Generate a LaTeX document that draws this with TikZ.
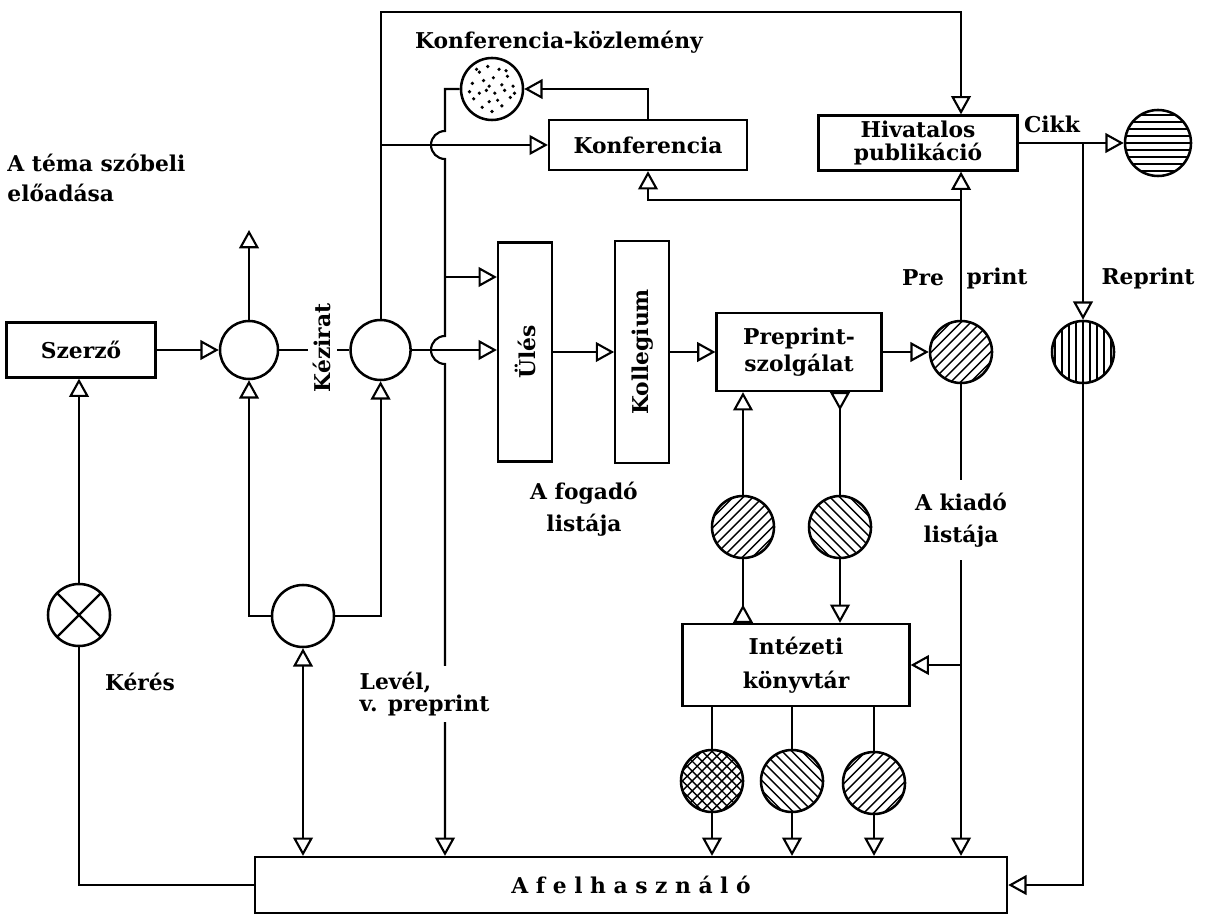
\documentclass[tikz,border=0pt]{standalone}
\usepackage{fontspec}
\setmainfont{DejaVu Serif}
\usetikzlibrary{arrows.meta,positioning,calc}
\tikzstyle{BlockNode}=[draw,rectangle,line width=1.6pt,inner sep=0pt,align=center]
\tikzstyle{DocumentNode}=[draw,circle,line width=1.8pt,minimum size=1.55cm,inner sep=0pt]
\tikzstyle{LabelNode}=[draw=none,align=center,inner sep=1pt]
\tikzstyle{GapLabel}=[draw=none,fill=white,align=left,inner sep=4pt]
\tikzstyle{BackTip}=[{Triangle[open,reversed,length=13pt,width=14pt]}-]
\tikzset{
hatched/.style={path picture={
\foreach \a in {#1}{
\foreach \k in {-42,-35,...,42}
  \draw[line width=1pt] ($(path picture bounding box.center)+(\a+90:\k*0.025cm)+(\a:1cm)$) -- ($(path picture bounding box.center)+(\a+90:\k*0.025cm)+(\a:-1cm)$);}}},
speckled/.style={path picture={
\begin{scope}[shift={(path picture bounding box.center)}]
\foreach \dx/\dy in {-14/4,-9/12,-3/16,5/14,11/9,15/2,13/-6,7/-12,0/-16,-7/-13,-13/-7,-6/6,1/8,7/3,2/-3,-4/-1,-9/-3,4/-8,-2/-9,9/-1,-16/-2,-11/14,16/-3,-2/2,10/13}
  \fill (\dx pt,\dy pt) circle (1.3pt);
\end{scope}}},
crossed/.style={path picture={
\draw[line width=1.6pt] (path picture bounding box.south west) -- (path picture bounding box.north east)
                        (path picture bounding box.north west) -- (path picture bounding box.south east);}}
}

\begin{document}
\begin{tikzpicture}[x=0.025cm,y=-0.025cm,line width=1.5pt,>={Triangle[open,length=13pt,width=14pt]},font=\fontsize{15.5}{19}\selectfont\bfseries]
  \useasboundingbox (0,0) rectangle (1207,918);
  \node[BlockNode,minimum width=3.725cm,minimum height=1.375cm](Szerzo) at (81,350){Szerző};
  \node[LabelNode,align=left,anchor=west](TemaLabel) at (5,178){A téma szóbeli\\[2pt]előadása};
  \node[DocumentNode,minimum size=1.45cm](SzobeliKor) at (249,350){};
  \node[DocumentNode,minimum size=1.5cm,right=1.75cm of SzobeliKor](KeziratKor){};
  \node[DocumentNode,crossed](KeresKor) at (79,615){};
  \node[LabelNode](KeresLabel) at (140,682){Kérés};
  \node[DocumentNode](LevelKor) at (303,616){};
  \node[BlockNode,minimum width=1.35cm,minimum height=5.475cm](Ules) at (525,352){\rotatebox{90}{Ülés}};
  \node[BlockNode,minimum width=1.35cm,minimum height=5.55cm,right=1.525cm of Ules](Kollegium){\rotatebox{90}{Kollegium}};
  \node[LabelNode](FogadoLabel) at (584,509){A fogadó\\[4pt]listája};
  \node[BlockNode,minimum width=4.125cm,minimum height=1.95cm,right=1.125cm of Kollegium](PreprintSzolg){Preprint-\\szolgálat};
  \node[DocumentNode,hatched=45,right=1.15cm of PreprintSzolg](PreprintKor){};
  \node[LabelNode](PreLabel) at (923,278){Pre};
  \node[LabelNode](PrintLabel) at (997,278){print};
  \node[BlockNode,minimum width=4.95cm,minimum height=1.25cm](Konferencia) at (648,145){Konferencia};
  \node[DocumentNode,speckled](KozlemenyKor) at (492,89){};
  \node[LabelNode](KozlemenyLabel) at (559,42){Konferencia-közlemény};
  \node[BlockNode,minimum width=4.975cm,minimum height=1.375cm](Hivatalos) at (918,143){Hivatalos\\[-3pt]publikáció};
  \node[DocumentNode,hatched=0,minimum size=1.65cm](CikkKor) at (1158,143){};
  \node[LabelNode](CikkLabel) at (1052,124){Cikk};
  \node[DocumentNode,hatched=90](ReprintKor) at (1083,352){};
  \node[LabelNode](ReprintLabel) at (1148,278){Reprint};
  \node[DocumentNode,hatched=45](IgenyKor) at (743,527){};
  \node[DocumentNode,hatched=-45](KuldesKor) at (840,527){};
  \node[BlockNode,minimum width=5.675cm,minimum height=2.05cm](Intezeti) at (796,665){Intézeti\\[5pt]könyvtár};
  \node[DocumentNode,hatched={45,-45}](RacsKor) at (712,781){};
  \node[DocumentNode,hatched=-45](FerdeKor) at (792,781){};
  \node[DocumentNode,hatched=45](PerjelKor) at (874,783){};
  \node[BlockNode,minimum width=18.8cm,minimum height=1.4cm](Felhasznalo) at (631,885){A f e l h a s z n á l ó};

  \coordinate (TemaVeg) at (249,230);
  \coordinate (FelsoVonal) at (0,12);
  \coordinate (LeszalloVonal) at (445,0);
  \coordinate (UlesBe) at (0,277);
  \coordinate (KonfAlatt) at (0,200);

  \draw[->] (Szerzo) -- (SzobeliKor);
  \draw[->] (SzobeliKor) -- (TemaVeg);
  \draw (SzobeliKor) -- (KeziratKor);
  \draw[->] (KeresKor.north) -- (KeresKor.north |- Szerzo.south);
  \draw (Felhasznalo.west) -| (KeresKor.south);
  \draw[->] (LevelKor.west) -| (SzobeliKor.south);
  \draw[->] (LevelKor.east) -| (KeziratKor.south);
  \draw[<->] (LevelKor.south) -- (LevelKor.south |- Felhasznalo.north);
  \draw[->] (KeziratKor.north) |- (FelsoVonal -| PreprintKor) -- (PreprintKor |- Hivatalos.north);
  \draw[->] (KeziratKor.north |- Konferencia.west) -- (Konferencia.west);
  \draw[->] (Konferencia.north) |- (KozlemenyKor.east);
  \draw[->] (KozlemenyKor.west) -| ($(LeszalloVonal |- Konferencia.west)+(0,-14)$) arc[start angle=270,end angle=90,radius=14]
    -- ($(LeszalloVonal |- KeziratKor.east)+(0,-14)$) arc[start angle=270,end angle=90,radius=14] -- (LeszalloVonal |- Felhasznalo.north);
  \draw[->] (LeszalloVonal |- UlesBe) -- (Ules.west |- UlesBe);
  \draw[->] (KeziratKor.east) -- (KeziratKor.east -| Ules.west);
  \draw[->] (Ules) -- (Kollegium);
  \draw[->] (Kollegium) -- (PreprintSzolg);
  \draw[->] (PreprintSzolg) -- (PreprintKor);
  \draw[->] (PreprintKor.north) -- (PreprintKor.north |- Hivatalos.south);
  \draw[->] (PreprintKor.north |- KonfAlatt) -| (Konferencia.south);
  \draw[->] (Hivatalos) -- (CikkKor);
  \draw[->] (ReprintKor.north |- CikkKor.west) -- (ReprintKor.north);
  \draw[->] (ReprintKor.south) |- (Felhasznalo.east);
  \draw[->] (PreprintKor.south) -- (PreprintKor.south |- Felhasznalo.north);
  \draw[->] (PreprintKor.south |- Intezeti.east) -- (Intezeti.east);
  \draw[->] (IgenyKor.north) -- (IgenyKor.north |- PreprintSzolg.south);
  \draw[BackTip] (KuldesKor.north |- PreprintSzolg.south) -- (KuldesKor.north);
  \draw[BackTip] (IgenyKor.south |- Intezeti.north) -- (IgenyKor.south);
  \draw[->] (KuldesKor.south) -- (KuldesKor.south |- Intezeti.north);
  \draw (RacsKor.north |- Intezeti.south) -- (RacsKor.north);
  \draw (FerdeKor.north |- Intezeti.south) -- (FerdeKor.north);
  \draw (PerjelKor.north |- Intezeti.south) -- (PerjelKor.north);
  \draw[->] (RacsKor.south) -- (RacsKor.south |- Felhasznalo.north);
  \draw[->] (FerdeKor.south) -- (FerdeKor.south |- Felhasznalo.north);
  \draw[->] (PerjelKor.south) -- (PerjelKor.south |- Felhasznalo.north);

  \node[GapLabel,rotate=90](KeziratLabel) at (322,348){Kézirat};
  \node[GapLabel,anchor=west](LevelLabel) at (353,694){Levél,\\[-3pt]v. preprint};
  \node[GapLabel,align=center,inner xsep=4pt,inner ysep=9pt](KiadoLabel) at (PreprintKor |- 0,520){A kiadó\\[4pt]listája};
\end{tikzpicture}
\end{document}
